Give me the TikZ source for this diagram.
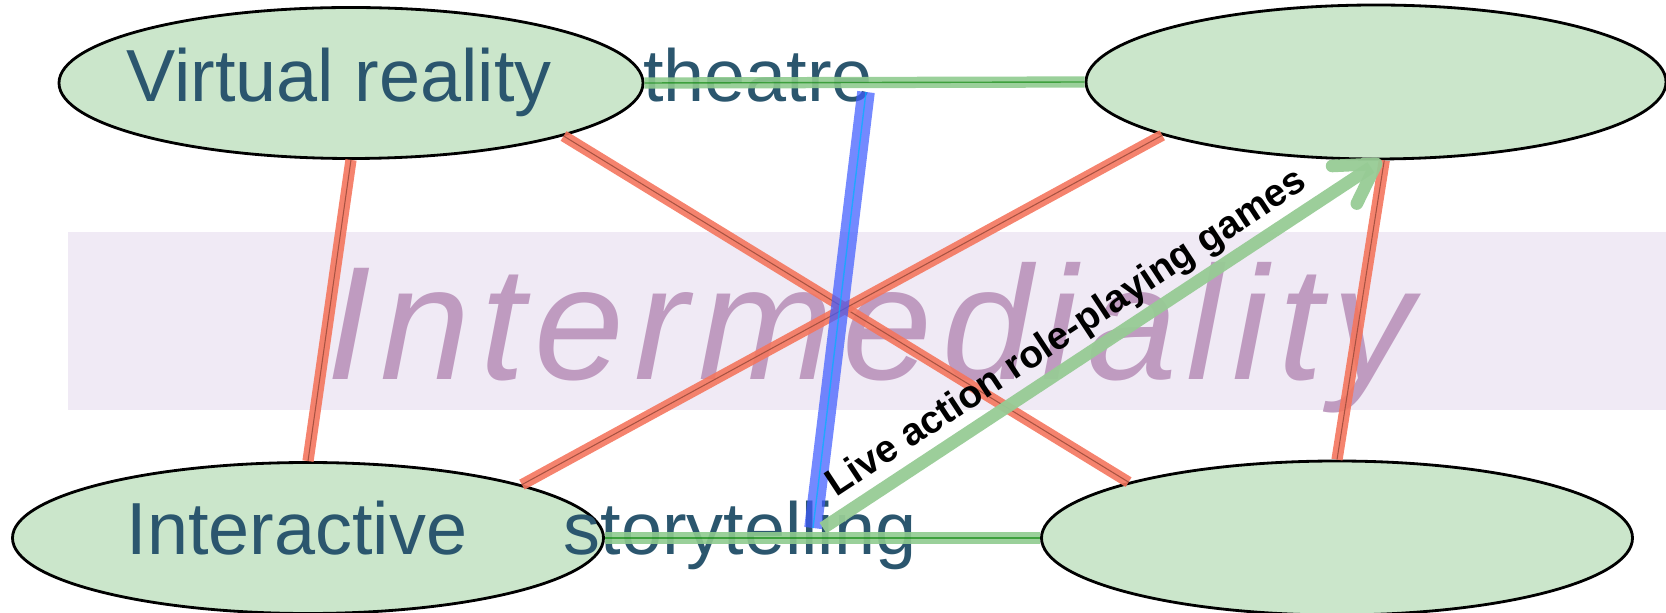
\documentclass[tikz,border=0pt]{standalone}
\usepackage{fontspec}
\setmainfont{Liberation Sans}
\newfontfamily\widefont[LetterSpace=6]{Liberation Sans}
\usetikzlibrary{shapes.geometric, arrows.meta}

\definecolor{mediumfill}{HTML}{CBE6CB}
\definecolor{labelink}{HTML}{2B566E}
\definecolor{bandfill}{HTML}{F0EAF5}
\definecolor{bandink}{HTML}{BF9BC0}
\definecolor{clashred}{HTML}{F4765E}
\definecolor{bondgreen}{HTML}{8FCB8F}
\definecolor{larpgreen}{HTML}{97CB95}
\definecolor{bridgeblue}{HTML}{3F5CFF}

\tikzset{
  medium/.style={ellipse, draw=black, line width=0.8pt, fill=mediumfill, inner sep=0pt},
  medialabel/.style={anchor=base, text=labelink, font=\fontsize{21}{25}\selectfont},
  clash/.style={draw=clashred, line width=3.2pt, draw opacity=0.9,
    postaction={draw=black!35!clashred, line width=0.3pt}},
  bond/.style={draw=bondgreen, line width=3.2pt, draw opacity=0.9,
    postaction={draw=green!50!black, line width=0.4pt, draw opacity=0.6}},
  bridge/.style={draw=bridgeblue, line width=5pt, draw opacity=0.72,
    postaction={draw=blue!30!cyan, line width=0.4pt}},
}

\begin{document}
\begin{tikzpicture}
\useasboundingbox (0,0) rectangle (16.66,6.12);

% band with the big word
\fill[bandfill] (0.68,2.02) rectangle (16.66,3.80);
\node[anchor=base, text=bandink, font=\widefont\itshape\fontsize{46}{50}\selectfont] (band) at (8.70,2.32) {Intermediality};

% media
\node[medium, minimum width=5.84cm, minimum height=1.51cm] (vr) at (3.51,5.29) {};
\node[medium, minimum width=5.80cm, minimum height=1.54cm] (tr) at (13.76,5.30) {};
\node[medium, minimum width=5.91cm, minimum height=1.51cm] (ia) at (3.08,0.74) {};
\node[medium, minimum width=5.91cm, minimum height=1.54cm] (br) at (13.37,0.74) {};

\node[medialabel] (vrtext) at (3.39,5.10) {Virtual reality};
\node[medialabel] (theatre) at (7.58,5.10) {theatre};
\node[medialabel] (iatext) at (2.97,0.57) {Interactive};
\node[medialabel] (story) at (7.40,0.57) {storytelling};

%Links
\draw[clash] (vr.south) -- (ia.north);
\draw[clash] (vr.-14) -- (br.165.6);
\draw[clash] (tr.194.7) -- (ia.14.5);
\draw[clash] (tr.-84) -- (br.north);

\draw[bond] (vr.east) -- (tr.west);
\draw[bond] (ia.east) -- (br.west);

\coordinate (bluetop) at (8.66,5.20);
\coordinate (bluefoot) at (8.13,0.84);
\coordinate (larpfoot) at (8.23,0.84);

\draw[bridge] (bluetop) -- (bluefoot);

\draw[-{Straight Barb[length=3.8mm, width=4.5mm, round]}, draw=larpgreen, line width=3.6pt, draw opacity=0.95]
  (larpfoot) -- (tr.-86)
  node[pos=0.465, above, sloped, inner sep=1pt, text=black, font=\bfseries\fontsize{11}{13}\selectfont] (larp) {Live action role-playing games};

\end{tikzpicture}
\end{document}
